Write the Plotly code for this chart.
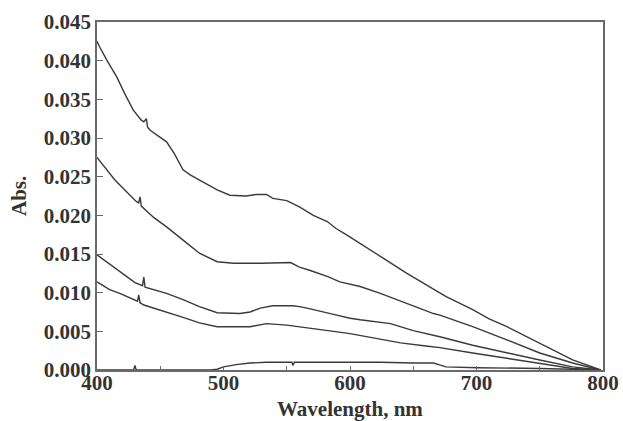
import plotly.graph_objects as go

# Wavelength (nm) and absorbance for each spectrum
wl1 = [400, 402, 408, 415.6, 422, 428.7, 435, 437, 439, 440, 442, 448, 455, 461, 468, 474, 481, 488, 495,
       505, 518, 526, 534, 539, 550, 560, 571, 582, 589, 597, 608, 624, 645, 660, 676, 697, 710, 724, 750,
       776, 790, 798]
abs1 = [0.0425, 0.0418, 0.0400, 0.0379, 0.0357, 0.0336, 0.0323, 0.0321, 0.0325, 0.0314, 0.0310, 0.0303,
        0.0295, 0.0280, 0.0259, 0.0252, 0.0246, 0.0239, 0.0233, 0.0226, 0.0225, 0.0227, 0.0227, 0.0222,
        0.0219, 0.0211, 0.0200, 0.0192, 0.0183, 0.0175, 0.0164, 0.0147, 0.0125, 0.0110, 0.0095, 0.0078,
        0.0066, 0.0056, 0.0034, 0.0013, 0.0005, 0.0]

wl2 = [400, 405, 414, 420, 426, 431, 433, 434, 435, 437, 445, 455, 463, 471, 481, 488, 495, 508, 530,
       553, 560, 568, 582, 592, 608, 624, 645, 666, 671, 697, 724, 750, 776, 798]
abs2 = [0.0275, 0.0265, 0.0246, 0.0236, 0.0226, 0.0218, 0.0216, 0.0224, 0.0212, 0.0209, 0.0197, 0.0185,
        0.0174, 0.0164, 0.0151, 0.0145, 0.0140, 0.0138, 0.0138, 0.0139, 0.0133, 0.0129, 0.0121, 0.0114,
        0.0108, 0.0099, 0.0086, 0.0073, 0.0071, 0.0056, 0.0039, 0.0022, 0.0009, 0.0]

wl3 = [400, 410, 420, 430, 436, 437, 438, 446, 455, 468, 481, 495, 513, 521, 529, 539, 555, 560, 566,
       587, 600, 608, 632, 650, 671, 697, 724, 750, 776, 798]
abs3 = [0.0149, 0.0137, 0.0125, 0.0113, 0.0109, 0.0120, 0.0107, 0.0103, 0.0099, 0.0091, 0.0082, 0.0074,
        0.0073, 0.0075, 0.0080, 0.0083, 0.0083, 0.0082, 0.0080, 0.0072, 0.0067, 0.0065, 0.0060, 0.0051,
        0.0043, 0.0032, 0.0022, 0.0013, 0.0004, 0.0]

wl4 = [400, 410, 418, 425, 432, 433, 434, 437, 445, 455, 468, 481, 495, 521, 534, 550, 560, 587, 600,
       620, 640, 660, 671, 697, 724, 750, 776, 798]
abs4 = [0.0114, 0.0104, 0.0099, 0.0094, 0.0089, 0.0097, 0.0087, 0.0084, 0.0080, 0.0075, 0.0068, 0.0061,
        0.0056, 0.0056, 0.0060, 0.0058, 0.0056, 0.0050, 0.0047, 0.0041, 0.0035, 0.0031, 0.0029, 0.0022,
        0.0015, 0.0009, 0.0002, 0.0]

wl5 = [400, 429, 430, 431, 490, 495, 500, 510, 521, 534, 554, 555, 556, 600, 624, 650, 666, 672, 676,
       700, 750, 798]
abs5 = [0.0, 0.0, 0.0006, 0.0, 0.0, 0.0001, 0.0004, 0.0007, 0.0009, 0.0010, 0.0010, 0.0006, 0.0010,
        0.0010, 0.0010, 0.0009, 0.0009, 0.0006, 0.0004, 0.0003, 0.0002, 0.0]

series = [(wl1, abs1), (wl2, abs2), (wl3, abs3), (wl4, abs4), (wl5, abs5)]

x_ticks = [400, 500, 600, 700, 800]
y_ticks = [0.000, 0.005, 0.010, 0.015, 0.020, 0.025, 0.030, 0.035, 0.040, 0.045]
x_title = "Wavelength, nm"
y_title = "Abs."

fig = go.Figure()
for wl, ab in series:
    fig.add_trace(go.Scatter(x=wl, y=ab, mode="lines",
                             line=dict(color="#3a3a3a", width=1.4),
                             showlegend=False, hoverinfo="skip"))

font_face = "Liberation Serif"
axis_color = "#6a6a6a"
text_color = "#333333"
label_font = dict(family=font_face, size=21, weight="bold", color=text_color)

fig.update_layout(
    width=623, height=421,
    margin=dict(l=97, r=20, t=22, b=51, autoexpand=False),
    paper_bgcolor="white", plot_bgcolor="white",
    font=dict(family=font_face, color=text_color),
)

fig.update_xaxes(
    range=[400, 800], tickvals=x_ticks, ticktext=[str(v) for v in x_ticks],
    automargin=False,
    showgrid=False, zeroline=False,
    showline=True, linecolor=axis_color, linewidth=1.5, mirror=True,
    ticks="inside", ticklen=4, tickcolor=axis_color, tickwidth=1,
    ticklabelstandoff=-7,
    minor=dict(dtick=50, ticks="inside", ticklen=4, tickcolor=axis_color, tickwidth=1, showgrid=False),
    tickfont=label_font,
)

fig.update_yaxes(
    range=[0, 0.045], tickvals=y_ticks, ticktext=[f"{v:.3f}" for v in y_ticks],
    automargin=False,
    showgrid=False, zeroline=False,
    showline=True, linecolor=axis_color, linewidth=1.5, mirror=True,
    ticks="inside", ticklen=6, tickcolor=axis_color, tickwidth=1,
    tickfont=label_font,
)

fig.add_annotation(text=y_title, xref="paper", yref="paper", x=0, y=0.5,
                   xanchor="center", yanchor="middle", xshift=-78, textangle=-90,
                   showarrow=False, font=label_font)
fig.add_annotation(text=x_title, xref="paper", yref="paper", x=0.5, y=0,
                   xanchor="center", yanchor="middle", yshift=-39,
                   showarrow=False, font=label_font)

fig.write_html("out.html", config={"displayModeBar": False},
               post_script="document.body.style.margin='0';document.body.style.overflow='hidden';")
